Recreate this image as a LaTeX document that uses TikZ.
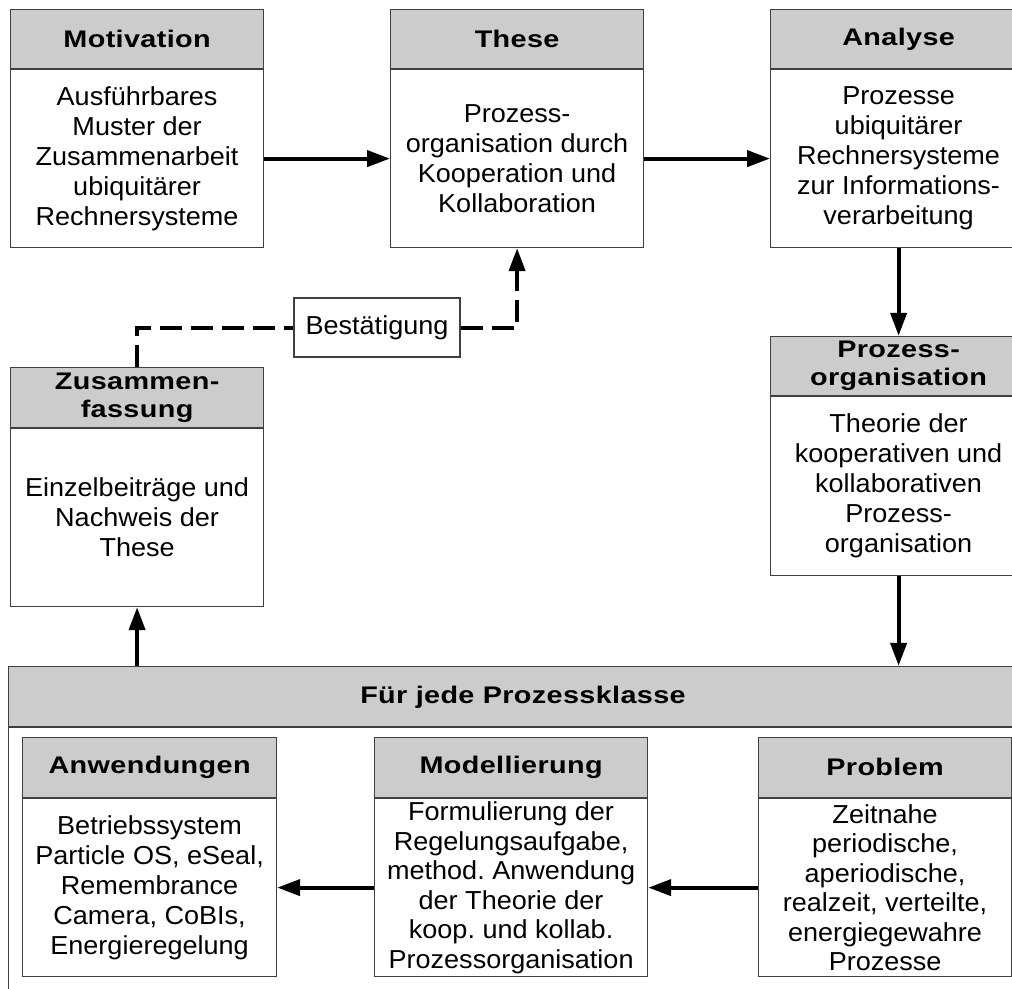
\documentclass[tikz,border=0pt]{standalone}
\usepackage{fontspec}
\setmainfont[FakeStretch=1.04]{Liberation Sans}
\newfontfamily\headfam[FakeStretch=1.2,LetterSpace=1.5]{Liberation Sans}
\usetikzlibrary{arrows.meta}
\definecolor{headgray}{RGB}{204,204,204}
\definecolor{edgegray}{RGB}{64,64,64}
\frenchspacing
\begin{document}
\begin{tikzpicture}[x=1pt,y=-1pt,
  body/.style={draw=edgegray, line width=1.2pt, fill=white, inner sep=0pt,
    align=center, font=\fontsize{26}{30}\selectfont, anchor=north west},
  head/.style={draw=edgegray, line width=1.2pt, fill=headgray, inner sep=0pt,
    align=center, font=\headfam\bfseries\fontsize{24}{28}\selectfont, anchor=south west},
  flow/.style={line width=4pt, -{Triangle[length=23pt,width=16pt]}},
  confirm/.style={line width=4pt, dash pattern=on 22pt off 9pt},
]
\useasboundingbox (0,0) rectangle (1012,988);
\clip (0,0) rectangle (1012,988);

% enclosing frame for the per-class loop
\node[body, minimum width=1040pt, minimum height=300pt] (fur) at (8,727) {};
\node[head, minimum width=1040pt, minimum height=60pt] (furH) at (8,727) {};
\node[font=\headfam\bfseries\fontsize{24}{28}\selectfont] (furT) at (523,697) {Für jede Prozessklasse};

% top row
\node[body, minimum width=253pt, minimum height=178pt] (mot) at (10,69)
  {Ausführbares\\Muster der\\Zusammenarbeit\\ubiquitärer\\Rechnersysteme};
\node[head, minimum width=253pt, minimum height=59pt] (motH) at (10,69) {Motivation};

\node[body, minimum width=253pt, minimum height=178pt] (the) at (390,69)
  {Prozess-\\organisation durch\\Kooperation und\\Kollaboration};
\node[head, minimum width=253pt, minimum height=59pt] (theH) at (390,69) {These};

\node[body, minimum width=256pt, minimum height=178pt] (ana) at (770,69)
  {Prozesse\\ubiquitärer\\Rechnersysteme\\zur Informations-\\verarbeitung};
\node[head, minimum width=256pt, minimum height=59pt] (anaH) at (770,69) {Analyse};

% right column
\node[body, minimum width=256pt, minimum height=179pt] (pro) at (770,396)
  {Theorie der\\kooperativen und\\kollaborativen\\Prozess-\\organisation};
\node[head, minimum width=256pt, minimum height=59pt] (proH) at (770,396) {Prozess-\\organisation};

% left column
\node[body, minimum width=253pt, minimum height=178pt] (zus) at (10,428)
  {Einzelbeiträge und\\Nachweis der\\These};
\node[head, minimum width=253pt, minimum height=60pt] (zusH) at (10,428) {Zusammen-\\fassung};

\node[body, anchor=center, minimum width=166pt, minimum height=59pt] (best) at (377,327.5) {Bestätigung};

% bottom row
\node[body, minimum width=254pt, minimum height=178pt] (anw) at (22,798)
  {Betriebssystem\\Particle OS, eSeal,\\Remembrance\\Camera, CoBIs,\\Energieregelung};
\node[head, minimum width=254pt, minimum height=60pt] (anwH) at (22,798) {Anwendungen};

\node[body, minimum width=273pt, minimum height=178pt, font=\fontsize{26}{29.5}\selectfont] (mod) at (374,798)
  {Formulierung der\\Regelungsaufgabe,\\method. Anwendung\\der Theorie der\\koop. und kollab.\\Prozessorganisation};
\node[head, minimum width=273pt, minimum height=60pt] (modH) at (374,798) {Modellierung};

\node[body, minimum width=253pt, minimum height=178pt, font=\fontsize{26}{29.5}\selectfont] (prb) at (758,798)
  {Zeitnahe\\periodische,\\aperiodische,\\realzeit, verteilte,\\energiegewahre\\Prozesse};
\node[head, minimum width=253pt, minimum height=60pt] (prbH) at (758,798) {Problem};

% connectors
\draw[flow] (mot.east) -- (the.west);
\draw[flow] (the.east) -- (ana.west);
\draw[flow] (ana.south) -- (proH.north);
\draw[flow] (pro.south) -- (pro.south |- furH.north);
\draw[flow] (zus.south |- furH.north) -- (zus.south);
\draw[flow] (prb.west) -- (mod.east);
\draw[flow] (mod.west) -- (anw.east);
\draw[confirm] (zusH.north) |- (best.west);
\draw[confirm, -{Triangle[length=23pt,width=16pt]}] (best.east) -| (the.south);
\end{tikzpicture}
\end{document}
